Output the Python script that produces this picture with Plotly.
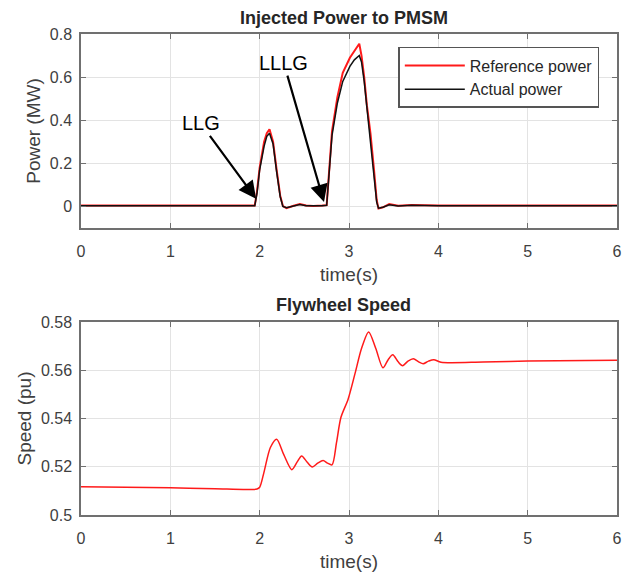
import plotly.graph_objects as go

# ---------------- data ----------------
t_power = [0.0, 0.5, 1.0, 1.5, 1.945, 1.97, 2.0, 2.05, 2.08, 2.11, 2.15, 2.19, 2.23, 2.26, 2.3,
           2.38, 2.45, 2.52, 2.6, 2.7, 2.75, 2.77, 2.81, 2.87, 2.93, 3.01, 3.06, 3.115,
           3.14, 3.17, 3.2, 3.24, 3.28, 3.31, 3.33, 3.38, 3.45, 3.55, 3.7, 4.0, 5.0, 6.0]
ref_power = [0.004, 0.004, 0.004, 0.004, 0.004, 0.07, 0.18, 0.30, 0.34, 0.358, 0.30, 0.17, 0.05, 0.002, -0.008,
             0.003, 0.011, 0.004, 0.002, 0.004, 0.006, 0.12, 0.35, 0.507, 0.62, 0.69, 0.72, 0.755,
             0.70, 0.60, 0.47, 0.34, 0.17, 0.03, -0.01, -0.004, 0.011, 0.003, 0.007, 0.004, 0.004, 0.004]
act_power = [0.003, 0.003, 0.003, 0.003, 0.003, 0.06, 0.17, 0.28, 0.325, 0.34, 0.29, 0.16, 0.045, 0.0, -0.006,
             0.002, 0.009, 0.003, 0.002, 0.003, 0.005, 0.10, 0.33, 0.48, 0.58, 0.65, 0.68, 0.70,
             0.67, 0.58, 0.46, 0.33, 0.16, 0.02, -0.008, -0.004, 0.008, 0.002, 0.005, 0.003, 0.003, 0.003]

t_speed = [0.0, 1.0, 1.5, 1.97, 2.0, 2.05, 2.12, 2.19, 2.27, 2.36, 2.42, 2.47, 2.53, 2.59, 2.65,
           2.71, 2.76, 2.81, 2.86, 2.91, 2.99, 3.07, 3.14, 3.22, 3.3, 3.38, 3.44, 3.49, 3.55,
           3.6, 3.66, 3.72, 3.78, 3.83, 3.89, 3.95, 4.03, 4.5, 5.0, 6.0]
speed = [0.5117, 0.5113, 0.5109, 0.5108, 0.5115, 0.518, 0.528, 0.5314, 0.525, 0.5188, 0.522, 0.5245,
         0.522, 0.5199, 0.5215, 0.5226, 0.5215, 0.5208, 0.530, 0.5405, 0.548, 0.559, 0.569, 0.5759,
         0.569, 0.561, 0.5645, 0.5664, 0.5635, 0.5619, 0.5638, 0.5648, 0.5635, 0.5627, 0.5638,
         0.5644, 0.5633, 0.5634, 0.5638, 0.5641]

x_ticks = [0, 1, 2, 3, 4, 5, 6]
power_ticks = [0, 0.2, 0.4, 0.6, 0.8]
speed_ticks = [0.5, 0.52, 0.54, 0.56, 0.58]

# fault markers: (label, arrow tip x, tip y, text x, text y)
faults = [("LLG", 1.96, 0.035, 1.34, 0.385),
          ("LLLG", 2.72, 0.02, 2.27, 0.665)]

# ---------------- figure ----------------
FONT = "Liberation Sans, Arial, sans-serif"
TICK_COLOR = "#404040"
AXIS_COLOR = "#707070"
GRID_COLOR = "#e3e3e3"

fig = go.Figure()
fig.add_trace(go.Scatter(x=t_power, y=ref_power, mode="lines", name="Reference power",
                         line=dict(color="#ff1a1a", width=2), xaxis="x", yaxis="y"))
fig.add_trace(go.Scatter(x=t_power, y=act_power, mode="lines", name="Actual power",
                         line=dict(color="#111111", width=1.5), xaxis="x", yaxis="y"))
fig.add_trace(go.Scatter(x=t_speed, y=speed, mode="lines", name="Flywheel speed", showlegend=False,
                         line=dict(color="#ff1a1a", width=1.5, shape="spline", smoothing=0.8),
                         xaxis="x2", yaxis="y2"))

common_axis = dict(showline=True, linecolor=AXIS_COLOR, linewidth=1.5, mirror="ticks",
                   ticks="inside", ticklen=5, tickcolor=AXIS_COLOR, showgrid=True,
                   gridcolor=GRID_COLOR, gridwidth=1, zeroline=False, automargin=False,
                   tickfont=dict(family=FONT, size=16, color=TICK_COLOR))

fig.update_layout(
    width=635, height=575,
    margin=dict(l=81, r=18, t=34, b=60),
    paper_bgcolor="white", plot_bgcolor="white",
    font=dict(family=FONT, color="#262626"),
    xaxis=dict(**common_axis, domain=[0, 1], anchor="y", range=[0, 6], tickvals=x_ticks,
               ticklabelstandoff=8,
               title=dict(text="time(s)", font=dict(family=FONT, size=19, color="#404040"), standoff=9)),
    yaxis=dict(**common_axis, domain=[0.5967, 1.0], anchor="x", range=[-0.1, 0.8], tickvals=power_ticks,
               ticklabelstandoff=4,
               title=dict(text="Power (MW)", font=dict(family=FONT, size=19, color="#404040"), standoff=4)),
    xaxis2=dict(**common_axis, domain=[0, 1], anchor="y2", range=[0, 6], tickvals=x_ticks,
                ticklabelstandoff=8,
                title=dict(text="time(s)", font=dict(family=FONT, size=19, color="#404040"), standoff=9)),
    yaxis2=dict(**common_axis, domain=[0, 0.4012], anchor="x2", range=[0.5, 0.58], tickvals=speed_ticks,
                ticklabelstandoff=4,
                title=dict(text="Speed (pu)", font=dict(family=FONT, size=19, color="#404040"), standoff=4)),
    legend=dict(x=0.967, xanchor="right", y=0.973, yanchor="top",
                bgcolor="white", bordercolor="#555555", borderwidth=1.5,
                font=dict(family=FONT, size=16, color="#262626"),
                itemwidth=60, tracegroupgap=2),
    showlegend=True,
)

# subplot titles
fig.add_annotation(text="<b>Injected Power to PMSM</b>", xref="paper", yref="paper",
                   x=0.49, y=1.033, showarrow=False, yanchor="middle",
                   font=dict(family=FONT, size=18, color="#262626"))
fig.add_annotation(text="<b>Flywheel Speed</b>", xref="paper", yref="paper",
                   x=0.49, y=0.4366, showarrow=False, yanchor="middle",
                   font=dict(family=FONT, size=18, color="#262626"))

# fault arrows
for label, tx, ty, lx, ly in faults:
    fig.add_annotation(text=label, x=tx, y=ty, xref="x", yref="y",
                       ax=lx, ay=ly, axref="x", ayref="y",
                       showarrow=True, arrowhead=2, arrowsize=1.6, arrowwidth=2.2,
                       arrowcolor="black", standoff=0,
                       font=dict(family=FONT, size=20, color="black"))

fig.write_html("out.html")
